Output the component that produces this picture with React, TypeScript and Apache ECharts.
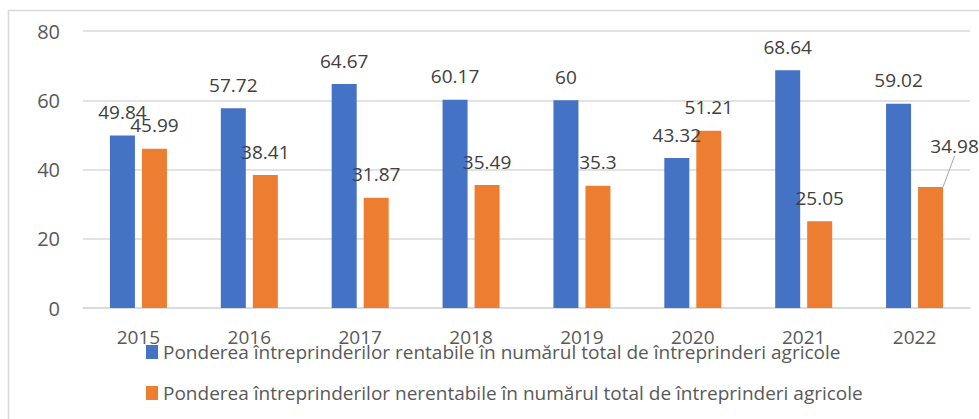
import React, { useEffect, useRef } from "react";
import * as echarts from "echarts";

const categories = ["2015", "2016", "2017", "2018", "2019", "2020", "2021", "2022"];
const rentabile = [49.84, 57.72, 64.67, 60.17, 60, 43.32, 68.64, 59.02];
const nerentabile = [45.99, 38.41, 31.87, 35.49, 35.3, 51.21, 25.05, 34.98];
const seriesNames = [
  "Ponderea întreprinderilor rentabile în numărul total de întreprinderi agricole",
  "Ponderea întreprinderilor nerentabile în numărul total de întreprinderi agricole",
];
const yTicks = { min: 0, max: 80, interval: 20 };
// index of the label that was moved aside with a leader line in the reference
const movedLabelIndex = 7;

const FONT = "Open Sans";

export default function App() {
  const ref = useRef<HTMLDivElement>(null);
  useEffect(() => {
    if (!ref.current) return;
    const chart = echarts.init(ref.current, null, { renderer: "svg" });
    const labelStyle = {
      show: true,
      position: "top",
      distance: 14,
      fontFamily: FONT,
      fontSize: 19,
      color: "#404040",
    };
    const orangeData = nerentabile.map((v, i) =>
      i === movedLabelIndex
        ? {
            value: v,
            labelLine: { show: true, lineStyle: { color: "#a6a6a6", width: 1 } },
          }
        : { value: v, labelLine: { show: false } }
    );
    chart.setOption({
      animation: false,
      textStyle: { fontFamily: FONT },
      graphic: [
        {
          type: "rect",
          shape: { x: 8.5, y: 10.5, width: 1000, height: 500 },
          style: { fill: "none", stroke: "#d9d9d9", lineWidth: 1.5 },
          silent: true,
        },
      ],
      grid: { left: 83, right: 9, top: 31, bottom: 111 },
      legend: {
        orient: "vertical",
        left: 141,
        top: 336,
        itemWidth: 12,
        itemHeight: 14,
        itemGap: 19,
        icon: "rect",
        textStyle: { fontFamily: FONT, fontSize: 19, color: "#595959", lineHeight: 22 },
        data: seriesNames,
      },
      xAxis: {
        type: "category",
        data: categories,
        axisTick: { show: false },
        axisLine: { lineStyle: { color: "#d9d9d9", width: 1.5 } },
        axisLabel: { fontFamily: FONT, fontSize: 19, color: "#595959", margin: 19 },
      },
      yAxis: {
        type: "value",
        min: yTicks.min,
        max: yTicks.max,
        interval: yTicks.interval,
        axisLine: { show: false },
        axisTick: { show: false },
        splitLine: { lineStyle: { color: "#d9d9d9", width: 1.5 } },
        axisLabel: { fontFamily: FONT, fontSize: 20, color: "#595959", margin: 23 },
      },
      series: [
        {
          name: seriesNames[0],
          type: "bar",
          data: rentabile,
          barWidth: 25,
          barGap: "28%",
          itemStyle: { color: "#4472C4" },
          label: labelStyle,
        },
        {
          name: seriesNames[1],
          type: "bar",
          data: orangeData,
          barWidth: 25,
          barGap: "28%",
          itemStyle: { color: "#ED7D31" },
          label: labelStyle,
          labelLine: { show: false, lineStyle: { color: "#a6a6a6", width: 1 } },
          labelLayout: (p: any) =>
            p.dataIndex === movedLabelIndex ? { dx: 24, dy: -17 } : {},
        },
      ],
    });
    return () => chart.dispose();
  }, []);
  return (
    <div
      ref={ref}
      style={{ position: "fixed", left: 0, top: 0, width: 979, height: 419, background: "#fff" }}
    />
  );
}
